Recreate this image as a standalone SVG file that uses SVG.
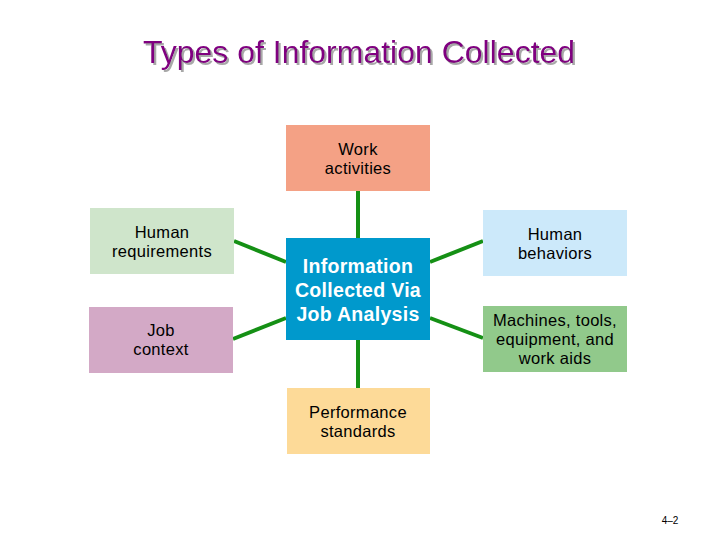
<svg xmlns="http://www.w3.org/2000/svg" width="720" height="540" viewBox="0 0 720 540">
<defs>
<filter id="sh" x="-5%" y="-20%" width="110%" height="150%">
<feDropShadow dx="2" dy="2" stdDeviation="0.4" flood-color="#a8a8a8" flood-opacity="1"/>
</filter>
</defs>
<style>
text{font-family:"Liberation Sans",Arial,sans-serif;text-anchor:middle}
.n{font-size:16.5px;letter-spacing:0.3px;fill:#000}
.c{font-size:19.5px;font-weight:bold;fill:#fff;letter-spacing:0.3px}
.ln{stroke:#159015;stroke-width:4;fill:none}
</style>
<rect width="720" height="540" fill="#fff"/>
<g id="title">
<text x="359" y="63" font-size="32" fill="#800080" filter="url(#sh)">Types of Information Collected</text>
</g>
<g id="connectors">
<line class="ln" x1="358" y1="191" x2="358" y2="238"/>
<line class="ln" x1="358" y1="340" x2="358" y2="388"/>
<line class="ln" x1="234" y1="241" x2="286" y2="262"/>
<line class="ln" x1="233" y1="339" x2="286" y2="318"/>
<line class="ln" x1="430" y1="262" x2="483" y2="241"/>
<line class="ln" x1="430" y1="318" x2="483" y2="338"/>
</g>
<g id="work">
<rect x="286" y="125" width="144" height="66" fill="#F4A185"/>
<text class="n" x="358" y="155">Work</text>
<text class="n" x="358" y="174">activities</text>
</g>
<g id="humanreq">
<rect x="90" y="208" width="144" height="66" fill="#CFE5CB"/>
<text class="n" x="162" y="238">Human</text>
<text class="n" x="162" y="257">requirements</text>
</g>
<g id="jobcontext">
<rect x="89" y="307" width="144" height="66" fill="#D3A9C6"/>
<text class="n" x="161" y="336">Job</text>
<text class="n" x="161" y="355">context</text>
</g>
<g id="center">
<rect x="286" y="238" width="144" height="102" fill="#0099CC"/>
<text class="c" x="358" y="273">Information</text>
<text class="c" x="358" y="297">Collected Via</text>
<text class="c" x="358" y="321">Job Analysis</text>
</g>
<g id="humanbeh">
<rect x="483" y="210" width="144" height="66" fill="#CCE9FA"/>
<text class="n" x="555" y="240">Human</text>
<text class="n" x="555" y="259">behaviors</text>
</g>
<g id="machines">
<rect x="483" y="306" width="144" height="66" fill="#91C98B"/>
<text class="n" x="555" y="326">Machines, tools,</text>
<text class="n" x="555" y="345">equipment, and</text>
<text class="n" x="555" y="364">work aids</text>
</g>
<g id="performance">
<rect x="287" y="388" width="143" height="66" fill="#FDDA98"/>
<text class="n" x="358" y="418">Performance</text>
<text class="n" x="358" y="437">standards</text>
</g>
<text x="670" y="524" font-size="10" fill="#000">4–2</text>
</svg>
